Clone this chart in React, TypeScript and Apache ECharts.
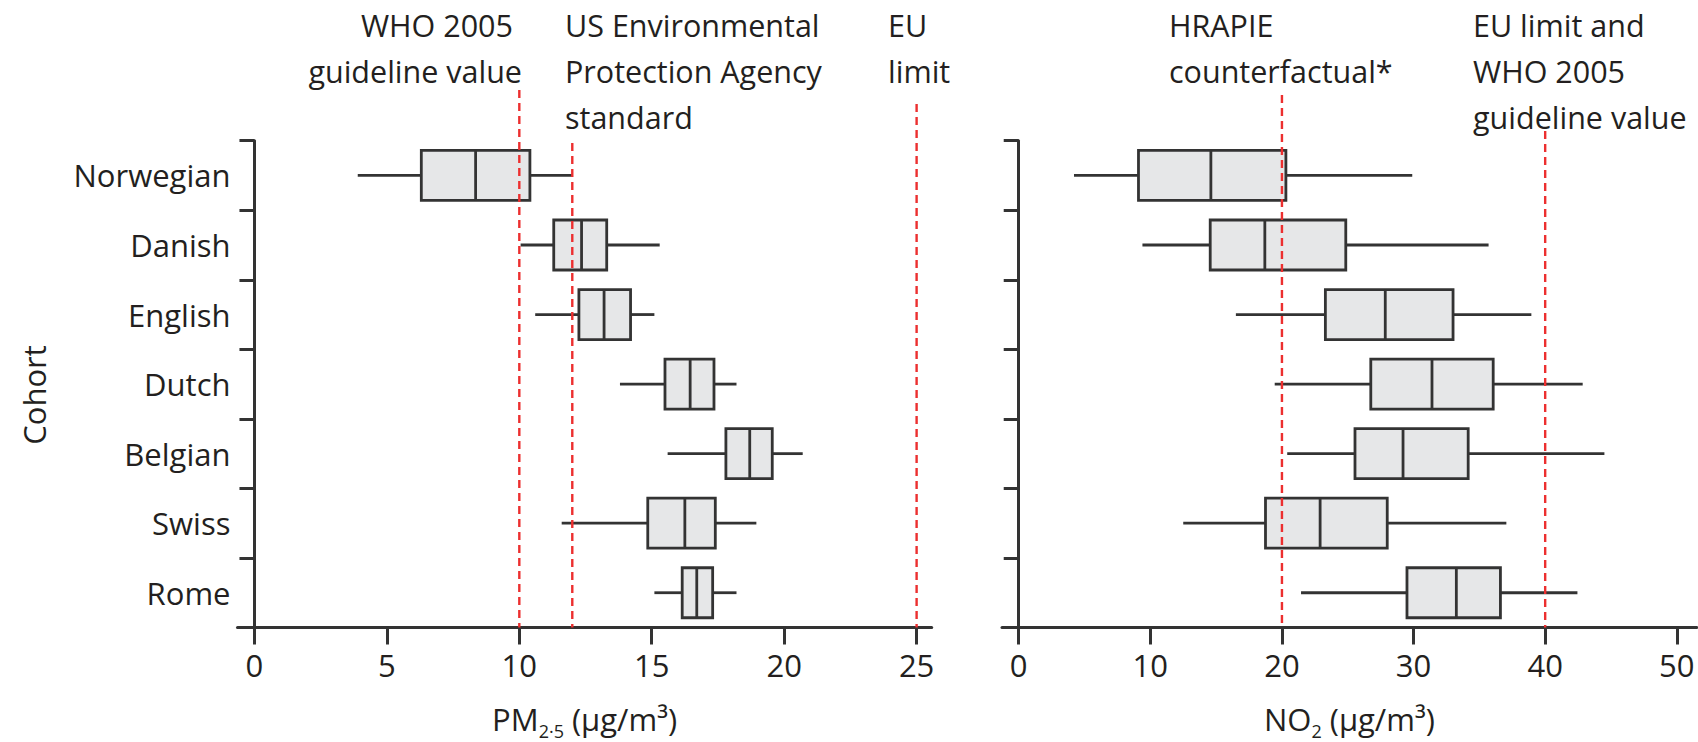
import React, { useEffect, useRef } from 'react';
import * as echarts from 'echarts';

// ---------- data ----------
const COHORTS = ['Norwegian', 'Danish', 'English', 'Dutch', 'Belgian', 'Swiss', 'Rome'];

// PM2.5 (µg/m³): whisker low, Q1, median, Q3, whisker high
const PM_LOW = [3.9, 10.05, 10.6, 13.8, 15.6, 11.6, 15.1];
const PM_Q1 = [6.3, 11.3, 12.25, 15.5, 17.8, 14.85, 16.15];
const PM_MED = [8.35, 12.35, 13.2, 16.45, 18.7, 16.25, 16.7];
const PM_Q3 = [10.4, 13.3, 14.2, 17.35, 19.55, 17.4, 17.3];
const PM_HIGH = [12.0, 15.3, 15.1, 18.2, 20.7, 18.95, 18.2];

// NO2 (µg/m³)
const NO2_LOW = [4.2, 9.4, 16.5, 19.45, 20.4, 12.5, 21.45];
const NO2_Q1 = [9.1, 14.55, 23.3, 26.75, 25.55, 18.75, 29.5];
const NO2_MED = [14.6, 18.7, 27.85, 31.4, 29.2, 22.9, 33.25];
const NO2_Q3 = [20.3, 24.85, 33.0, 36.05, 34.15, 28.0, 36.6];
const NO2_HIGH = [29.9, 35.7, 38.95, 42.85, 44.5, 37.05, 42.45];

const PM_TICKS = [0, 5, 10, 15, 20, 25];
const NO2_TICKS = [0, 10, 20, 30, 40, 50];

// reference values (guidelines / limits)
const PM_REF = [10, 12, 25];
const NO2_REF = [20, 40];

// ---------- layout / style ----------
const PM_REF_TOP = [90, 143, 104];
const NO2_REF_TOP = [95, 131];
const FONT = 'Open Sans';
const TXT = '#231f20';
const DARK = '#333333';
const RED = '#ec2f2f';
const BOX_FILL = '#e6e7e8';
const BOX_H = 50;

const rows = (lo: number[], q1: number[], med: number[], q3: number[], hi: number[]) =>
  COHORTS.map((_, i) => [i, lo[i], q1[i], med[i], q3[i], hi[i]]);

function boxRenderer(params: any, api: any) {
  const cat = api.value(0);
  const pts = [1, 2, 3, 4, 5].map((d) => api.coord([api.value(d), cat]));
  const y = pts[0][1];
  const lw = 2.8;
  const st = { stroke: DARK, lineWidth: lw };
  return {
    type: 'group',
    children: [
      { type: 'line', shape: { x1: pts[0][0], y1: y, x2: pts[1][0], y2: y }, style: st },
      { type: 'line', shape: { x1: pts[3][0], y1: y, x2: pts[4][0], y2: y }, style: st },
      {
        type: 'rect',
        shape: { x: pts[1][0], y: y - BOX_H / 2, width: pts[3][0] - pts[1][0], height: BOX_H },
        style: { fill: BOX_FILL, stroke: DARK, lineWidth: lw },
      },
      { type: 'line', shape: { x1: pts[2][0], y1: y - BOX_H / 2, x2: pts[2][0], y2: y + BOX_H / 2 }, style: st },
    ],
  };
}

function refRenderer(tops: number[]) {
  return (params: any, api: any) => {
    const x = api.coord([api.value(0), 0])[0];
    const cs = params.coordSys;
    return {
      type: 'line',
      shape: { x1: x, y1: tops[api.value(2)], x2: x, y2: cs.y + cs.height },
      style: { stroke: RED, lineWidth: 2.4, lineDash: [8, 5] },
    };
  };
}

function xAxisCfg(gridIndex: number, min: number, max: number, ticks: number[], name: string) {
  return {
    type: 'value',
    gridIndex,
    min,
    max,
    name,
    nameLocation: 'middle',
    nameGap: 71,
    nameTextStyle: {
      rich: {
        a: { fontFamily: FONT, fontSize: 31, color: TXT, lineHeight: 41, verticalAlign: 'middle' },
        s: { fontFamily: FONT, fontSize: 18, color: TXT, lineHeight: 18, verticalAlign: 'bottom' },
      },
    },
    splitLine: { show: false },
    axisLine: { show: true, lineStyle: { color: DARK, width: 3 } },
    axisTick: { show: true, customValues: ticks, length: 17, lineStyle: { color: DARK, width: 3 } },
    axisLabel: { customValues: ticks, margin: 22, fontFamily: FONT, fontSize: 31, color: TXT },
  };
}

function yAxisCfg(gridIndex: number, showLabels: boolean) {
  return {
    type: 'category',
    gridIndex,
    data: COHORTS,
    inverse: true,
    boundaryGap: true,
    axisLine: { show: true, onZero: true, lineStyle: { color: DARK, width: 3 } },
    axisTick: { show: true, length: 15, lineStyle: { color: DARK, width: 3 } },
    axisLabel: { show: showLabels, margin: 7, fontFamily: FONT, fontSize: 31, color: TXT },
    splitLine: { show: false },
  };
}

function headerLines(lines: { t: string; x: number; y: number; align: string }[]) {
  return lines.map((l) => ({
    type: 'text',
    x: l.x,
    y: l.y,
    style: {
      text: l.t,
      fontFamily: FONT,
      fontSize: 30.5,
      fill: TXT,
      align: l.align,
      verticalAlign: 'middle',
    },
  }));
}

export default function App() {
  const ref = useRef<HTMLDivElement>(null);
  useEffect(() => {
    document.body.style.margin = '0';
    if (!ref.current) return;
    const chart = echarts.init(ref.current, null, { renderer: 'svg' });
    const L1 = 25, L2 = 71, L3 = 117;
    chart.setOption({
      animation: false,
      backgroundColor: '#ffffff',
      grid: [
        { left: 237.5, top: 140.7, width: 694.2, height: 486.8, outerBoundsMode: 'none' },
        { left: 1002, top: 140.7, width: 694.8, height: 486.8, outerBoundsMode: 'none' },
      ],
      xAxis: [
        xAxisCfg(0, -0.64, 25.57, PM_TICKS, '{a|PM}{s|2·5}{a| (µg/m³)}'),
        xAxisCfg(1, -1.27, 51.52, NO2_TICKS, '{a|NO}{s|2}{a| (µg/m³)}'),
      ],
      yAxis: [yAxisCfg(0, true), yAxisCfg(1, false)],
      series: [
        {
          type: 'custom',
          xAxisIndex: 0,
          yAxisIndex: 0,
          renderItem: boxRenderer,
          encode: { x: [1, 2, 3, 4, 5], y: 0 },
          data: rows(PM_LOW, PM_Q1, PM_MED, PM_Q3, PM_HIGH),
          z: 2,
        },
        {
          type: 'custom',
          xAxisIndex: 1,
          yAxisIndex: 1,
          renderItem: boxRenderer,
          encode: { x: [1, 2, 3, 4, 5], y: 0 },
          data: rows(NO2_LOW, NO2_Q1, NO2_MED, NO2_Q3, NO2_HIGH),
          z: 2,
        },
        {
          type: 'custom',
          xAxisIndex: 0,
          yAxisIndex: 0,
          clip: false,
          renderItem: refRenderer(PM_REF_TOP),
          encode: { x: 0, y: 1 },
          data: PM_REF.map((v, i) => [v, 0, i]),
          z: 5,
        },
        {
          type: 'custom',
          xAxisIndex: 1,
          yAxisIndex: 1,
          clip: false,
          renderItem: refRenderer(NO2_REF_TOP),
          encode: { x: 0, y: 1 },
          data: NO2_REF.map((v, i) => [v, 0, i]),
          z: 5,
        },
      ],
      graphic: [
        ...headerLines([
          { t: 'WHO 2005', x: 513, y: L1, align: 'right' },
          { t: 'guideline value', x: 522, y: L2, align: 'right' },
          { t: 'US Environmental', x: 565, y: L1, align: 'left' },
          { t: 'Protection Agency', x: 565, y: L2, align: 'left' },
          { t: 'standard', x: 565, y: L3, align: 'left' },
          { t: 'EU', x: 888, y: L1, align: 'left' },
          { t: 'limit', x: 888, y: L2, align: 'left' },
          { t: 'HRAPIE', x: 1169, y: L1, align: 'left' },
          { t: 'counterfactual*', x: 1169, y: L2, align: 'left' },
          { t: 'EU limit and', x: 1473, y: L1, align: 'left' },
          { t: 'WHO 2005', x: 1473, y: L2, align: 'left' },
          { t: 'guideline value', x: 1473, y: L3, align: 'left' },
        ]),
        {
          type: 'text',
          x: 34,
          y: 395,
          rotation: Math.PI / 2,
          style: {
            text: 'Cohort',
            fontFamily: FONT,
            fontSize: 31,
            fill: TXT,
            align: 'center',
            verticalAlign: 'middle',
          },
        },
      ],
    });
    return () => chart.dispose();
  }, []);
  return <div ref={ref} style={{ width: 1698, height: 742 }} />;
}
